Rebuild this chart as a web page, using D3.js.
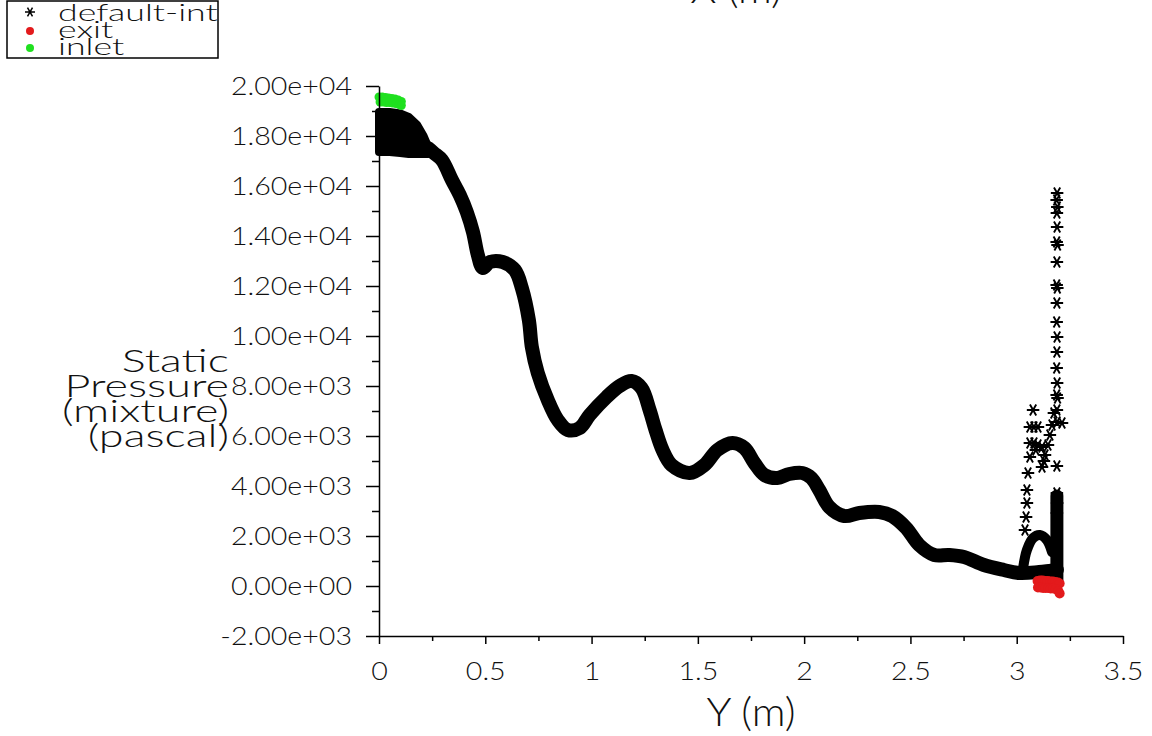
<!DOCTYPE html>
<html><head><meta charset="utf-8">
<script src="https://cdn.jsdelivr.net/npm/d3@7"></script>
<style>
html,body{margin:0;padding:0;background:#fff;}
svg{display:block;}
text{font-family:Lato,"DejaVu Sans",sans-serif;font-weight:300;fill:#111;}
</style></head><body>
<svg id="chart" width="1152" height="736"></svg>
<script>
// ---- axis ticks ----
const yTicks = [-2000,0,2000,4000,6000,8000,10000,12000,14000,16000,18000,20000];
const yTickLabels = ["-2.00e+03","0.00e+00","2.00e+03","4.00e+03","6.00e+03","8.00e+03","1.00e+04","1.20e+04","1.40e+04","1.60e+04","1.80e+04","2.00e+04"];
const yMinorTicks = [-1000,1000,3000,5000,7000,9000,11000,13000,15000,17000,19000];
const xTicks = [0,0.5,1,1.5,2,2.5,3,3.5];
const xTickLabels = ["0","0.5","1","1.5","2","2.5","3","3.5"];
const xMinorTicks = [0.25,0.75,1.25,1.75,2.25,2.75,3.25];
const yTitleLines = ["Static","Pressure","(mixture)","(pascal)"];
const xTitle = "Y (m)";
const topTitle = "X (m)";

// ---- series ----
const seriesNames = ["default-interior","exit","inlet"];
const seriesColors = ["#000000","#e31a1c","#1fe01f"];

// default-interior: dense block near the inlet (x, upper, lower)
const blockX = [0, 0.05, 0.10, 0.14, 0.18, 0.21, 0.23];
const blockTop = [18960, 18960, 18900, 18760, 18440, 18000, 17600];
const blockBottom = [17360, 17360, 17320, 17280, 17280, 17280, 17280];

// default-interior: main dense band (centre of the cloud)
const bandX = [0.230,0.258,0.296,0.343,0.380,0.413,0.442,0.465,0.488,0.521,0.582,0.639,0.672,0.705,0.719,0.747,0.794,0.841,0.888,0.944,0.991,1.071,1.132,1.188,1.235,1.273,1.301,1.334,1.376,1.461,1.531,1.592,1.663,1.719,1.766,1.813,1.874,1.930,1.992,2.034,2.071,2.118,2.189,2.259,2.353,2.414,2.480,2.541,2.612,2.682,2.752,2.846,2.940,3.011,3.105,3.189];
const bandY = [17520,17320,17040,16240,15640,14960,14160,13240,12720,12960,12960,12640,11920,10640,9560,8520,7440,6640,6240,6320,6840,7560,8000,8200,7920,7040,6240,5440,4840,4520,4840,5440,5720,5520,4920,4440,4320,4480,4520,4320,3840,3160,2800,2920,2960,2800,2320,1640,1240,1240,1160,840,640,520,560,640];

// default-interior: arch and column near the exit
const archX = [3.030,3.048,3.077,3.109,3.142,3.166];
const archY = [720,1440,1920,2040,1840,1360];
const columnX = [3.189,3.189];
const columnY = [3600,120];

// default-interior: scattered points
const sparseX = [3.190,3.188,3.191,3.189,3.190,3.188,3.192,3.189,3.188,3.191,3.189,3.188,3.190,3.189,3.188,3.190,3.188,3.192,3.189,3.190,3.189,3.189,3.190,3.189,3.213,
  3.077,3.062,3.081,3.100,3.062,3.081,3.100,3.119,3.090,3.062,3.053,3.048,3.048,3.044,3.039,3.119,3.133,3.147,3.156,3.166,3.175,3.128];
const sparseY = [15720,15440,15160,14920,14360,13760,13640,12960,12040,11920,11320,10560,9960,9360,8720,8120,7640,7520,7040,6560,4800,3720,3320,2920,6520,
  7040,6360,6360,6360,5720,5720,5640,5560,5440,5160,4520,3840,3320,2760,2240,4760,5240,5640,6040,6440,6920,5000];

// exit
const exitX = [3.098,3.110,3.122,3.134,3.146,3.158,3.170,3.182,3.194,3.202, 3.100,3.112,3.124,3.136,3.148,3.160,3.172,3.184,3.196,3.202];
const exitY = [200,220,220,200,200,180,180,160,140,100, -60,-60,-80,-80,-80,-100,-100,-120,-200,-300];

// inlet
const inletX = [0,0.015,0.03,0.045,0.06,0.075,0.09,0.105, 0.005,0.02,0.035,0.05,0.065,0.08,0.095,0.105];
const inletY = [19560,19560,19540,19520,19500,19480,19440,19380, 19360,19360,19340,19340,19320,19300,19260,19220];

// ---- drawing ----
const svg = d3.select("#chart");
const x = d3.scaleLinear().domain([0,3.5]).range([379,1123]);
const y = d3.scaleLinear().domain([-2000,20000]).range([636,86]);

const plot = svg.append("g");
// block
plot.append("path")
  .datum(d3.zip(blockX, blockTop, blockBottom))
  .attr("d", d3.area().x(d=>x(d[0])).y0(d=>y(d[2])).y1(d=>y(d[1])))
  .attr("fill","#000").attr("stroke","#000").attr("stroke-width",8).attr("stroke-linejoin","round");
// band
const line = d3.line().x(d=>x(d[0])).y(d=>y(d[1])).curve(d3.curveCatmullRom.alpha(0.5));
plot.append("path").datum(d3.zip(bandX,bandY)).attr("d",line)
  .attr("fill","none").attr("stroke","#000").attr("stroke-width",14)
  .attr("stroke-linejoin","round").attr("stroke-linecap","round");
plot.append("path").datum(d3.zip(archX,archY)).attr("d",line)
  .attr("fill","none").attr("stroke","#000").attr("stroke-width",10)
  .attr("stroke-linejoin","round").attr("stroke-linecap","round");
plot.append("path").datum(d3.zip(columnX,columnY)).attr("d",d3.line().x(d=>x(d[0])).y(d=>y(d[1])))
  .attr("fill","none").attr("stroke","#000").attr("stroke-width",13).attr("stroke-linecap","round");
// sparse asterisks
const ast = d3.symbol(d3.symbolAsterisk, 110);
plot.selectAll("path.ast").data(d3.zip(sparseX,sparseY)).join("path").attr("class","ast")
  .attr("d", ast).attr("transform", d=>`translate(${x(d[0])},${y(d[1])}) rotate(90)`)
  .attr("fill","none").attr("stroke","#000").attr("stroke-width",1.9);
// exit
plot.selectAll("circle.exit").data(d3.zip(exitX,exitY)).join("circle").attr("class","exit")
  .attr("cx",d=>x(d[0])).attr("cy",d=>y(d[1])).attr("r",5).attr("fill",seriesColors[1]);
// inlet
plot.selectAll("circle.inlet").data(d3.zip(inletX,inletY)).join("circle").attr("class","inlet")
  .attr("cx",d=>x(d[0])).attr("cy",d=>y(d[1])).attr("r",4.5).attr("fill",seriesColors[2]);

// ---- axes ----
function styleAxis(g){
  g.attr("font-size",null).attr("font-family",null);
  g.selectAll("path,line").attr("stroke","#000").attr("stroke-width",1.5);
}
const labelSX = 1.1;
const yAxis = svg.append("g").attr("transform",`translate(${x(0)},0)`)
  .call(d3.axisLeft(y).tickValues(yTicks).tickSize(13).tickSizeOuter(0).tickPadding(14)
    .tickFormat(d=>yTickLabels[yTicks.indexOf(d)]));
styleAxis(yAxis);
yAxis.selectAll("text").style("font-size","26px").attr("fill","#111")
  .attr("x",-27/labelSX).attr("transform",`scale(${labelSX},1)`);
const yMinor = svg.append("g").attr("transform",`translate(${x(0)},0)`)
  .call(d3.axisLeft(y).tickValues(yMinorTicks).tickSize(7).tickFormat(""));
styleAxis(yMinor); yMinor.select(".domain").remove();

const xAxis = svg.append("g").attr("transform",`translate(0,${y(-2000)})`)
  .call(d3.axisBottom(x).tickValues(xTicks).tickSize(8).tickSizeOuter(0).tickPadding(18)
    .tickFormat(d=>xTickLabels[xTicks.indexOf(d)]));
styleAxis(xAxis);
xAxis.selectAll("text").style("font-size","26px").attr("fill","#111")
  .attr("transform",`scale(${labelSX},1)`);
const xMinor = svg.append("g").attr("transform",`translate(0,${y(-2000)})`)
  .call(d3.axisBottom(x).tickValues(xMinorTicks).tickSize(5).tickFormat(""));
styleAxis(xMinor); xMinor.select(".domain").remove();

// ---- titles ----
function addText(str, tx, ty, size, anchor, sx){
  return svg.append("text").attr("transform",`translate(${tx},${ty}) scale(${sx},1)`)
    .attr("text-anchor",anchor).style("font-size",size+"px").text(str);
}
addText(xTitle, 751, 726, 40, "middle", 1.05);
addText(topTitle, 736, 3, 40, "middle", 1.05);
yTitleLines.forEach((t,i)=> addText(t, 229, 372 + i*25, 31, "end", 1.45));

// ---- legend ----
const leg = svg.append("g");
leg.append("clipPath").attr("id","legclip").append("rect").attr("x",7).attr("y",1).attr("width",211).attr("height",57);
leg.append("rect").attr("x",7).attr("y",1).attr("width",211).attr("height",57)
  .attr("fill","#fff").attr("stroke","#000").attr("stroke-width",1.5);
const legRows = [21,38,55];
const lg = leg.append("g").attr("clip-path","url(#legclip)");
seriesNames.forEach((n,i)=>{
  const ty = legRows[i];
  if(i===0){
    lg.append("path").attr("d",d3.symbol(d3.symbolAsterisk, 70)).attr("transform",`translate(30,${ty-9}) rotate(90)`)
      .attr("fill","none").attr("stroke","#000").attr("stroke-width",1.5);
  } else {
    lg.append("circle").attr("cx",30).attr("cy",ty-7).attr("r",4).attr("fill",seriesColors[i]);
  }
  lg.append("text").attr("transform",`translate(58,${ty}) scale(1.55,1)`).style("font-size","23px").text(n);
});
</script>
</body></html>
